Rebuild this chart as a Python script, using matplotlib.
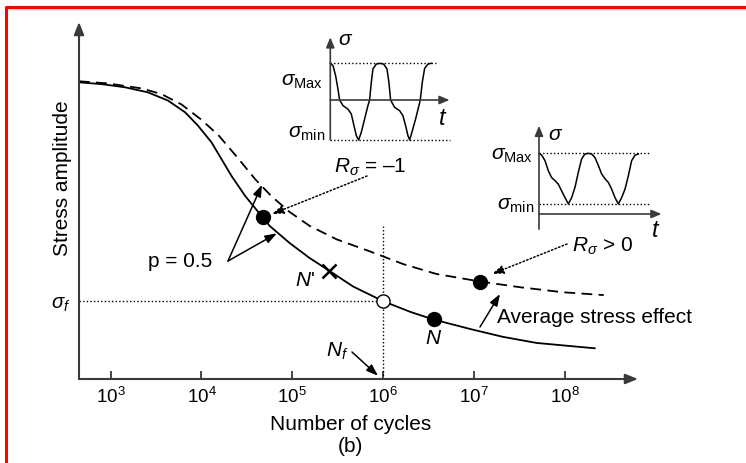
import matplotlib
matplotlib.use("Agg")
import matplotlib.pyplot as plt
import numpy as np
from matplotlib.lines import Line2D
from matplotlib.ticker import NullLocator

plt.rcParams['font.family'] = ['Liberation Sans', 'DejaVu Sans']
plt.rcParams['mathtext.fontset'] = 'custom'
plt.rcParams['mathtext.rm'] = 'Liberation Sans'
plt.rcParams['mathtext.it'] = 'Liberation Sans:italic'
plt.rcParams['mathtext.bf'] = 'Liberation Sans:bold'

# --- S-N curves (log10 of cycles, stress amplitude in arbitrary units) ---
solid_logN = [2.65, 2.90, 3.16, 3.41, 3.63, 3.82, 3.96, 4.11, 4.22, 4.33, 4.48, 4.66,
              4.75, 4.97, 5.19, 5.42, 5.67, 6.00, 6.30, 6.55, 6.96, 7.32, 7.69, 8.33]
solid_stress = [83.1, 82.6, 81.7, 80.3, 78.0, 74.7, 71.0, 66.3, 61.6, 56.9, 51.3, 45.7,
                42.9, 38.1, 33.9, 30.1, 25.9, 21.8, 18.8, 16.7, 14.0, 11.8, 10.1, 8.6]

dashed_logN = [2.65, 2.97, 3.34, 3.56, 3.78, 4.00, 4.19, 4.41, 4.59, 4.77, 4.97, 5.19,
               5.49, 5.86, 6.22, 6.59, 7.07, 7.51, 7.98, 8.43]
dashed_stress = [83.4, 82.8, 81.4, 79.8, 76.9, 72.6, 68.2, 61.6, 56.0, 51.2, 46.8, 42.9,
                 39.1, 35.7, 32.2, 29.4, 27.3, 25.7, 24.3, 23.5]

# marked points
p50_logN, p50_stress = 4.68, 45.3          # p = 0.5 point, R = -1 curve
nprime_logN, nprime_stress = 5.40, 30.2     # N'
N_f, sigma_f = 1e6, 21.9                    # fatigue limit point
n_logN, n_stress = 6.56, 16.8               # N
rpos_logN, rpos_stress = 7.07, 27.3         # point on R > 0 curve
nf_guide_top = 42.9                         # top of the vertical dotted guide

decades = [3, 4, 5, 6, 7, 8]
decade_labels = [r'$10^{%d}$' % d for d in decades]

# --- inset waveforms (time, stress) ---
wave1_t = [0, 0.052, 0.105, 0.150, 0.183, 0.248, 0.346, 0.412, 0.464, 0.510, 0.556,
           0.608, 0.673, 0.739, 0.771, 0.804, 0.837, 0.902, 0.967, 1.046, 1.111, 1.150,
           1.183, 1.261, 1.359, 1.425, 1.477, 1.523, 1.556, 1.601, 1.673, 1.739, 1.765,
           1.804, 1.850, 1.915, 1.980]
wave1_s = [1.0, 0.94, 0.66, 0.30, 0.0, -0.15, -0.25, -0.38, -0.70, -0.97, -1.09,
           -0.88, -0.52, -0.15, 0.0, 0.48, 0.85, 0.98, 1.0, 0.98, 0.85, 0.48,
           0.0, -0.20, -0.29, -0.43, -0.70, -0.97, -1.09, -0.88, -0.52, -0.15, 0.0,
           0.48, 0.86, 0.98, 1.0]
wave1_max, wave1_min = 1.0, -1.09

wave2_t = [0, 0.053, 0.12, 0.187, 0.253, 0.32, 0.387, 0.453, 0.52, 0.587, 0.653, 0.72,
           0.787, 0.853, 0.92, 0.987, 1.053, 1.12, 1.187, 1.253, 1.32, 1.387, 1.453,
           1.52, 1.587, 1.653, 1.72, 1.787, 1.853, 1.92, 1.987]
wave2_s = [1.0, 0.97, 0.88, 0.71, 0.60, 0.55, 0.49, 0.38, 0.27, 0.165, 0.27, 0.44,
           0.69, 0.91, 0.99, 1.0, 0.99, 0.93, 0.80, 0.66, 0.58, 0.52, 0.41,
           0.27, 0.165, 0.27, 0.41, 0.63, 0.88, 0.97, 0.99]
wave2_max, wave2_min = 1.0, 0.165

W, H = 746, 464
AXC = '#3a3a3a'
FS = 15


def fp(x, y):
    # pixel -> figure fraction
    return (x / W, 1 - y / H)


def ftext(x, y, s, **kw):
    kw.setdefault('fontsize', FS)
    kw.setdefault('va', 'baseline')
    fig.text(x / W, 1 - y / H, s, **kw)


fig = plt.figure(figsize=(W / 100, H / 100), dpi=100)

# red frame (top + left)
fig.add_artist(Line2D([6 / W, 6 / W, 1.0], [0.0, 1 - 8 / H, 1 - 8 / H],
                      transform=fig.transFigure, color='#ff0000', lw=2.2))

# ---------------- main S-N axes ----------------
ax = fig.add_axes([79 / W, 1 - 380 / H, 559 / W, 357 / H])
ax.set_xscale('log')
ax.set_xlim(10 ** 2.651, 10 ** 8.807)
ax.set_ylim(0, 100)
for sp in ax.spines.values():
    sp.set_visible(False)
ax.patch.set_alpha(0)

ax.set_xticks([10.0 ** d for d in decades], decade_labels)
ax.xaxis.set_minor_locator(NullLocator())
ax.tick_params(axis='x', direction='in', length=6, width=1.3, color=AXC, pad=5,
               labelsize=13.5)
ax.set_yticks([sigma_f], [r'$\sigma_f$'])
ax.tick_params(axis='y', length=0, pad=6, labelsize=14.5)

axis_arrow = dict(arrowstyle='-|>,head_length=0.75,head_width=0.3', lw=1.5,
                  color=AXC, shrinkA=0, shrinkB=0)
ax.annotate('', xy=(1, 0), xytext=(0, 0), xycoords='axes fraction', arrowprops=axis_arrow)
ax.annotate('', xy=(0, 1), xytext=(0, 0), xycoords='axes fraction', arrowprops=axis_arrow)

ax.plot(10.0 ** np.array(solid_logN), solid_stress, color='k', lw=1.3)
ax.plot(10.0 ** np.array(dashed_logN), dashed_stress, color='k', lw=1.3, dashes=(6, 3.5))

dot = (0, (1, 1.6))
x0 = ax.get_xlim()[0]
ax.plot([x0, N_f], [sigma_f, sigma_f], color='k', lw=1, ls=dot)
ax.plot([N_f, N_f], [0, nf_guide_top], color='k', lw=1, ls=dot)

ax.plot(10 ** p50_logN, p50_stress, 'o', ms=10, color='k', zorder=5)
ax.plot(10 ** rpos_logN, rpos_stress, 'o', ms=10, color='k', zorder=5)
ax.plot(10 ** n_logN, n_stress, 'o', ms=10, color='k', zorder=5)
ax.plot(N_f, sigma_f, 'o', ms=9.5, mfc='white', mec='k', mew=1, zorder=5)
ax.plot(10 ** nprime_logN, nprime_stress, 'x', ms=10, mew=1.8, color='k', zorder=5)

arr = dict(arrowstyle='-|>,head_length=0.7,head_width=0.25', lw=1.1, color='k',
           shrinkA=0, shrinkB=0)
arr_dot = dict(arr, linestyle=(0, (1, 1.5)))

# p = 0.5 arrows
ax.annotate('', xy=(10 ** 4.666, 54.4), xytext=fp(228, 262), textcoords='figure fraction',
            arrowprops=arr)
ax.annotate('', xy=(10 ** 4.83, 40.8), xytext=fp(228, 262), textcoords='figure fraction',
            arrowprops=arr)
# R = -1 pointer
ax.annotate('', xy=(10 ** 4.776, 46.2), xytext=fp(367, 177), textcoords='figure fraction',
            arrowprops=arr_dot)
# R > 0 pointer
ax.annotate('', xy=(10 ** 7.199, 29.4), xytext=fp(567, 245), textcoords='figure fraction',
            arrowprops=arr_dot)
# average stress effect
ax.annotate('', xy=(10 ** 7.287, 23.8), xytext=fp(480, 328), textcoords='figure fraction',
            arrowprops=arr)
# N_f pointer
ax.annotate('', xy=(10 ** 5.944, 0.9), xytext=fp(352, 353), textcoords='figure fraction',
            arrowprops=arr)

ftext(148, 267, 'p = 0.5')
ftext(334, 173, '$R_\\sigma$ = \u20131')
ftext(572, 252, r'$R_\sigma$ > 0')
ftext(497, 323, 'Average stress effect')
ftext(295, 286, r"$N$'")
ftext(425, 344, r'$N$')
ftext(326, 356.7, r'$N_f$')
ftext(351, 430, 'Number of cycles', ha='center')
ftext(350, 452, '(b)', ha='center')
ftext(63, 178, 'Stress amplitude', ha='center', va='center', rotation=90)

# ---------------- inset: R = -1 ----------------
small_arrow = dict(arrowstyle='-|>,head_length=0.6,head_width=0.25', lw=1.2,
                   color=AXC, shrinkA=0, shrinkB=0)
ax1 = fig.add_axes([325.2 / W, 1 - 145 / H, 130 / W, 110 / H])
ax1.set_xlim(-0.1, 2.45)
ax1.set_ylim(-1.2, 1.8)
ax1.axis('off')
ax1.annotate('', xy=(0, 1.71), xytext=(0, wave1_min), arrowprops=small_arrow)
ax1.annotate('', xy=(2.34, 0), xytext=(0, 0), arrowprops=small_arrow)
ax1.plot([0, 2.08], [wave1_max, wave1_max], color='k', lw=1, ls=dot)
ax1.plot([0, 2.34], [wave1_min, wave1_min], color='k', lw=1, ls=dot)
ax1.plot(wave1_t, wave1_s, color='k', lw=1.1)
ax1.text(0.16, 1.53, r'$\sigma$', fontsize=15, va='baseline')
ax1.text(-0.137, 0.41, r'$\sigma_{\mathrm{Max}}$', fontsize=15, ha='right', va='baseline')
ax1.text(-0.10, -1.01, r'$\sigma_{\mathrm{min}}$', fontsize=15, ha='right', va='baseline')
ax1.text(2.11, -0.65, r'$t$', fontsize=17, va='baseline')

# ---------------- inset: R > 0 ----------------
ax2 = fig.add_axes([534 / W, 1 - 236.2 / H, 132.5 / W, 115.2 / H])
ax2.set_xlim(-0.1, 2.55)
ax2.set_ylim(-0.35, 1.55)
ax2.axis('off')
ax2.annotate('', xy=(0, 1.455), xytext=(0, -0.25), arrowprops=small_arrow)
ax2.annotate('', xy=(2.45, 0), xytext=(0, 0), arrowprops=small_arrow)
ax2.plot([0, 2.22], [wave2_max, wave2_max], color='k', lw=1, ls=dot)
ax2.plot([0, 2.22], [wave2_min, wave2_min], color='k', lw=1, ls=dot)
ax2.plot(wave2_t, wave2_s, color='k', lw=1.1)
ax2.text(0.19, 1.24, r'$\sigma$', fontsize=15, va='baseline')
ax2.text(-0.11, 0.91, r'$\sigma_{\mathrm{Max}}$', fontsize=15, ha='right', va='baseline')
ax2.text(-0.09, 0.08, r'$\sigma_{\mathrm{min}}$', fontsize=15, ha='right', va='baseline')
ax2.text(2.24, -0.36, r'$t$', fontsize=17, va='baseline')

fig.savefig('out.png', dpi=100)
